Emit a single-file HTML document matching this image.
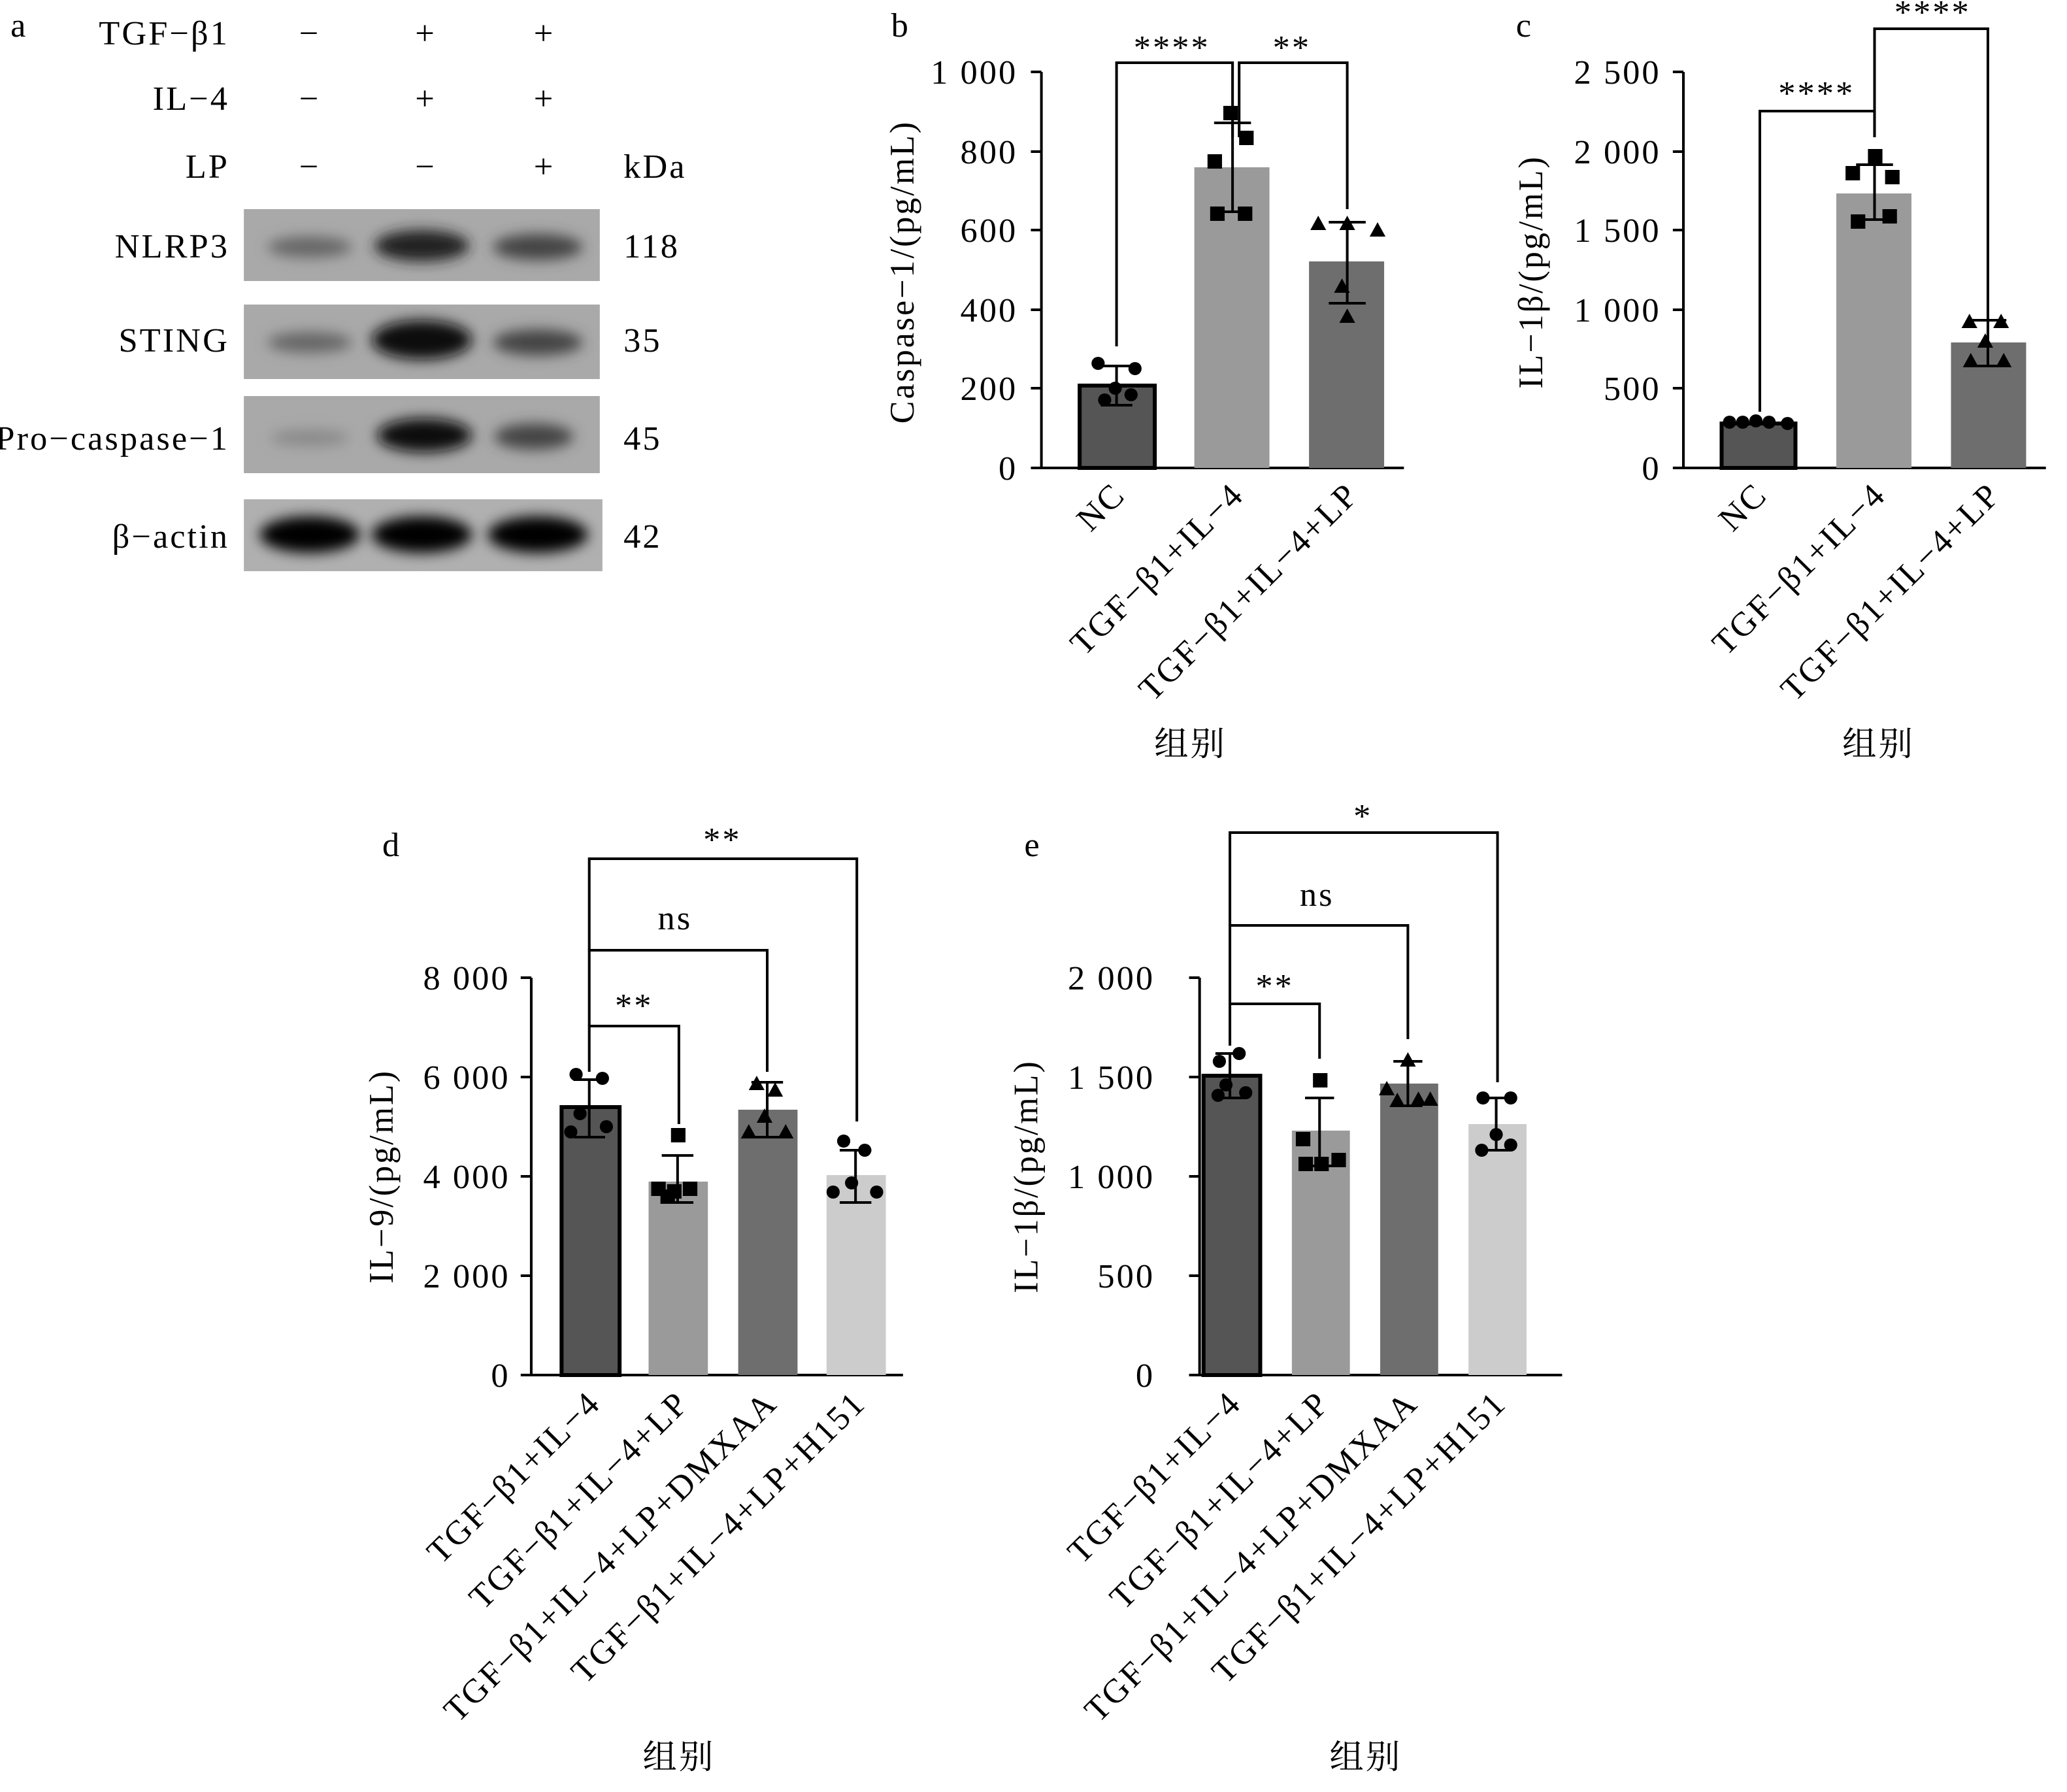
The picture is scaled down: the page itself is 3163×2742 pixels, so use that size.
<!DOCTYPE html>
<html><head><meta charset="utf-8"><style>html,body{margin:0;padding:0;background:#fff}svg{display:block}</style></head><body>
<svg width="3163" height="2742" viewBox="0 0 1568 1371" preserveAspectRatio="none" xmlns="http://www.w3.org/2000/svg" font-family="Liberation Serif, 'Noto Serif CJK SC', serif" font-size="26" letter-spacing="1.5">
<defs>
<filter id="bl" x="-20%" y="-50%" width="140%" height="200%"><feGaussianBlur stdDeviation="5"/></filter>
</defs>
<!-- Panel a -->
<text x="8" y="28">a</text>
<g text-anchor="end"><text x="174" y="34">TGF−β1</text><text x="174" y="84">IL−4</text><text x="174" y="136">LP</text>
<text x="174" y="197">NLRP3</text><text x="174" y="269">STING</text><text x="174" y="344">Pro−caspase−1</text><text x="174" y="419">β−actin</text></g>
<g text-anchor="middle"><text x="235" y="34">−</text><text x="323" y="34">+</text><text x="413" y="34">+</text>
<text x="235" y="84">−</text><text x="323" y="84">+</text><text x="413" y="84">+</text>
<text x="235" y="136">−</text><text x="323" y="136">−</text><text x="413" y="136">+</text></g>
<text x="473" y="136">kDa</text>
<text x="473" y="197">118</text><text x="473" y="269">35</text><text x="473" y="344">45</text><text x="473" y="419">42</text>
<rect x="185" y="160" width="270" height="55" fill="#a9a9a9"/>
<rect x="185" y="233" width="270" height="57" fill="#a9a9a9"/>
<rect x="185" y="303" width="270" height="59" fill="#a9a9a9"/>
<rect x="185" y="382" width="272" height="55" fill="#b0b0b0"/>
<g filter="url(#bl)">
<ellipse cx="235" cy="189" rx="32" ry="8" fill="#666"/><ellipse cx="320" cy="188" rx="36" ry="12" fill="#222"/><ellipse cx="408" cy="189" rx="34" ry="10" fill="#444"/>
<ellipse cx="235" cy="262" rx="32" ry="8" fill="#666"/><ellipse cx="320" cy="260" rx="38" ry="15" fill="#111"/><ellipse cx="408" cy="262" rx="34" ry="10" fill="#444"/>
<ellipse cx="235" cy="335" rx="30" ry="6" fill="#888"/><ellipse cx="322" cy="333" rx="36" ry="13" fill="#111"/><ellipse cx="405" cy="334" rx="30" ry="10" fill="#444"/>
<ellipse cx="235" cy="409" rx="38" ry="14" fill="#000"/><ellipse cx="320" cy="409" rx="38" ry="14" fill="#000"/><ellipse cx="408" cy="409" rx="38" ry="14" fill="#000"/>
</g>

<!-- Panel b -->
<text x="676" y="28">b</text>
<g stroke="#000" stroke-width="2" fill="none"><path d="M790 55V358H1065"/>
<path d="M782 55H790M782 116H790M782 176H790M782 237H790M782 297H790M782 358H790"/></g>
<g text-anchor="end"><text x="772" y="64">1 000</text><text x="772" y="125">800</text><text x="772" y="185">600</text><text x="772" y="246">400</text><text x="772" y="306">200</text><text x="772" y="367">0</text></g>
<text transform="translate(693 208) rotate(-90)" text-anchor="middle">Caspase−1/(pg/mL)</text>
<rect x="819" y="295" width="57" height="63" fill="#555" stroke="#000" stroke-width="3"/>
<rect x="906" y="128" width="57" height="230" fill="#9a9a9a"/>
<rect x="993" y="200" width="57" height="158" fill="#6e6e6e"/>
<g stroke="#000" stroke-width="2" fill="none">
<path d="M847 280V310M835 280H859M835 310H859"/>
<path d="M935 94V162M921 94H949M921 162H949"/>
<path d="M1022 170V232M1008 170H1036M1008 232H1036"/>
<path d="M847 265V48H935V105"/><path d="M940 105V48H1022V160"/></g>
<g fill="#000"><circle cx="833" cy="278" r="5"/><circle cx="861" cy="282" r="5"/><circle cx="846" cy="297" r="5"/><circle cx="838" cy="306" r="5"/><circle cx="858" cy="302" r="5"/>
<rect x="928" y="81" width="11" height="11"/><rect x="916" y="118" width="11" height="11"/><rect x="940" y="100" width="11" height="11"/><rect x="918" y="158" width="11" height="11"/><rect x="939" y="158" width="11" height="11"/>
<path d="M1000 165l6 11h-12zM1022 165l6 11h-12zM1045 170l6 11h-12zM1018 213l6 11h-12zM1022 236l6 11h-12z"/></g>
<text x="889" y="45" text-anchor="middle">****</text><text x="980" y="45" text-anchor="middle">**</text>
<g text-anchor="end"><text transform="translate(855 380) rotate(-45)">NC</text><text transform="translate(945 380) rotate(-45)">TGF−β1+IL−4</text><text transform="translate(1032 380) rotate(-45)">TGF−β1+IL−4+LP</text></g>
<text x="903" y="578" text-anchor="middle">组别</text>

<!-- Panel c -->
<text x="1150" y="28">c</text>
<g stroke="#000" stroke-width="2" fill="none"><path d="M1277 55V358H1552"/>
<path d="M1269 55H1277M1269 116H1277M1269 176H1277M1269 237H1277M1269 297H1277M1269 358H1277"/></g>
<g text-anchor="end"><text x="1260" y="64">2 500</text><text x="1260" y="125">2 000</text><text x="1260" y="185">1 500</text><text x="1260" y="246">1 000</text><text x="1260" y="306">500</text><text x="1260" y="367">0</text></g>
<text transform="translate(1170 208) rotate(-90)" text-anchor="middle">IL−1β/(pg/mL)</text>
<rect x="1306" y="324" width="56" height="34" fill="#555" stroke="#000" stroke-width="3"/>
<rect x="1393" y="148" width="57" height="210" fill="#9a9a9a"/>
<rect x="1480" y="262" width="57" height="96" fill="#6e6e6e"/>
<g stroke="#000" stroke-width="2" fill="none">
<path d="M1408 126H1436M1422 126V168M1408 168H1436"/>
<path d="M1494 245H1522M1508 245V280M1494 280H1522"/>
<path d="M1335 315V85H1422V105"/><path d="M1422 105V22H1508V245"/></g>
<g fill="#000"><circle cx="1312" cy="323" r="5"/><circle cx="1322" cy="323" r="5"/><circle cx="1332" cy="322" r="5"/><circle cx="1342" cy="323" r="5"/><circle cx="1356" cy="324" r="5"/>
<rect x="1417" y="114" width="11" height="11"/><rect x="1400" y="127" width="11" height="11"/><rect x="1430" y="130" width="11" height="11"/><rect x="1404" y="164" width="11" height="11"/><rect x="1428" y="160" width="11" height="11"/>
<path d="M1494 240l6 11h-12zM1518 240l6 11h-12zM1506 255l6 11h-12zM1495 270l6 11h-12zM1520 270l6 11h-12z"/></g>
<text x="1378" y="80" text-anchor="middle">****</text><text x="1466" y="18" text-anchor="middle">****</text>
<g text-anchor="end"><text transform="translate(1342 380) rotate(-45)">NC</text><text transform="translate(1432 380) rotate(-45)">TGF−β1+IL−4</text><text transform="translate(1519 380) rotate(-45)">TGF−β1+IL−4+LP</text></g>
<text x="1425" y="578" text-anchor="middle">组别</text>

<!-- Panel d -->
<text x="290" y="655">d</text>
<g stroke="#000" stroke-width="2" fill="none"><path d="M403 748V1052H685"/>
<path d="M395 748H403M395 824H403M395 900H403M395 976H403M395 1052H403"/></g>
<g text-anchor="end"><text x="387" y="757">8 000</text><text x="387" y="833">6 000</text><text x="387" y="909">4 000</text><text x="387" y="985">2 000</text><text x="387" y="1061">0</text></g>
<text transform="translate(298 900) rotate(-90)" text-anchor="middle">IL−9/(pg/mL)</text>
<rect x="426" y="847" width="44" height="205" fill="#555" stroke="#000" stroke-width="3"/>
<rect x="492" y="904" width="45" height="148" fill="#9a9a9a"/>
<rect x="560" y="849" width="45" height="203" fill="#6e6e6e"/>
<rect x="627" y="899" width="45" height="153" fill="#cccccc"/>
<g stroke="#000" stroke-width="2" fill="none">
<path d="M435 826H459M447 826V870M435 870H459"/>
<path d="M502 884H526M514 884V920M502 920H526"/>
<path d="M570 828H594M582 828V870M570 870H594"/>
<path d="M637 880H661M649 880V920M637 920H661"/>
<path d="M447 820V785H515V860"/><path d="M447 785V727H582V820"/><path d="M447 727V657H650V858"/></g>
<g fill="#000"><circle cx="437" cy="822" r="5"/><circle cx="457" cy="825" r="5"/><circle cx="440" cy="852" r="5"/><circle cx="433" cy="866" r="5"/><circle cx="460" cy="862" r="5"/>
<rect x="509" y="863" width="11" height="11"/><rect x="494" y="904" width="11" height="11"/><rect x="506" y="906" width="11" height="11"/><rect x="518" y="904" width="11" height="11"/><rect x="501" y="910" width="11" height="11"/>
<path d="M574 823l6 11h-12zM588 828l6 11h-12zM580 848l6 11h-12zM568 860l6 11h-12zM596 860l6 11h-12z"/>
<circle cx="640" cy="873" r="5"/><circle cx="656" cy="880" r="5"/><circle cx="646" cy="905" r="5"/><circle cx="632" cy="912" r="5"/><circle cx="665" cy="912" r="5"/></g>
<text x="481" y="778" text-anchor="middle">**</text><text x="512" y="711" text-anchor="middle">ns</text><text x="548" y="651" text-anchor="middle">**</text>
<g text-anchor="end"><text transform="translate(457 1075) rotate(-45)">TGF−β1+IL−4</text><text transform="translate(524 1075) rotate(-45)">TGF−β1+IL−4+LP</text><text transform="translate(591 1075) rotate(-45)">TGF−β1+IL−4+LP+DMXAA</text><text transform="translate(658 1075) rotate(-45)">TGF−β1+IL−4+LP+H151</text></g>
<text x="515" y="1353" text-anchor="middle">组别</text>

<!-- Panel e -->
<text x="777" y="655">e</text>
<g stroke="#000" stroke-width="2" fill="none"><path d="M910 748V1052H1185"/>
<path d="M902 748H910M902 824H910M902 900H910M902 976H910M902 1052H910"/></g>
<g text-anchor="end"><text x="876" y="757">2 000</text><text x="876" y="833">1 500</text><text x="876" y="909">1 000</text><text x="876" y="985">500</text><text x="876" y="1061">0</text></g>
<text transform="translate(787 900) rotate(-90)" text-anchor="middle">IL−1β/(pg/mL)</text>
<rect x="913" y="823" width="43" height="229" fill="#555" stroke="#000" stroke-width="3"/>
<rect x="980" y="865" width="44" height="187" fill="#9a9a9a"/>
<rect x="1047" y="829" width="44" height="223" fill="#6e6e6e"/>
<rect x="1114" y="860" width="44" height="192" fill="#cccccc"/>
<g stroke="#000" stroke-width="2" fill="none">
<path d="M922 806H944M933 806V840M922 840H944"/>
<path d="M990 840H1012M1001 840V892M990 892H1012"/>
<path d="M1057 812H1079M1068 812V846M1057 846H1079"/>
<path d="M1124 840H1146M1135 840V880M1124 880H1146"/>
<path d="M933 800V768H1001V810"/><path d="M933 768V708H1068V795"/><path d="M933 708V637H1136V828"/></g>
<g fill="#000"><circle cx="925" cy="812" r="5"/><circle cx="940" cy="806" r="5"/><circle cx="930" cy="830" r="5"/><circle cx="924" cy="838" r="5"/><circle cx="945" cy="836" r="5"/>
<rect x="996" y="821" width="11" height="11"/><rect x="983" y="866" width="11" height="11"/><rect x="985" y="885" width="11" height="11"/><rect x="997" y="885" width="11" height="11"/><rect x="1010" y="882" width="11" height="11"/>
<path d="M1068 805l6 11h-12zM1052 827l6 11h-12zM1060 836l6 11h-12zM1076 835l6 11h-12zM1085 835l6 11h-12z"/>
<circle cx="1125" cy="840" r="5"/><circle cx="1146" cy="840" r="5"/><circle cx="1135" cy="868" r="5"/><circle cx="1124" cy="880" r="5"/><circle cx="1146" cy="876" r="5"/></g>
<text x="967" y="763" text-anchor="middle">**</text><text x="999" y="693" text-anchor="middle">ns</text><text x="1034" y="633" text-anchor="middle">*</text>
<g text-anchor="end"><text transform="translate(943 1075) rotate(-45)">TGF−β1+IL−4</text><text transform="translate(1010 1075) rotate(-45)">TGF−β1+IL−4+LP</text><text transform="translate(1077 1075) rotate(-45)">TGF−β1+IL−4+LP+DMXAA</text><text transform="translate(1144 1075) rotate(-45)">TGF−β1+IL−4+LP+H151</text></g>
<text x="1036" y="1353" text-anchor="middle">组别</text>
</svg>
</body></html>
